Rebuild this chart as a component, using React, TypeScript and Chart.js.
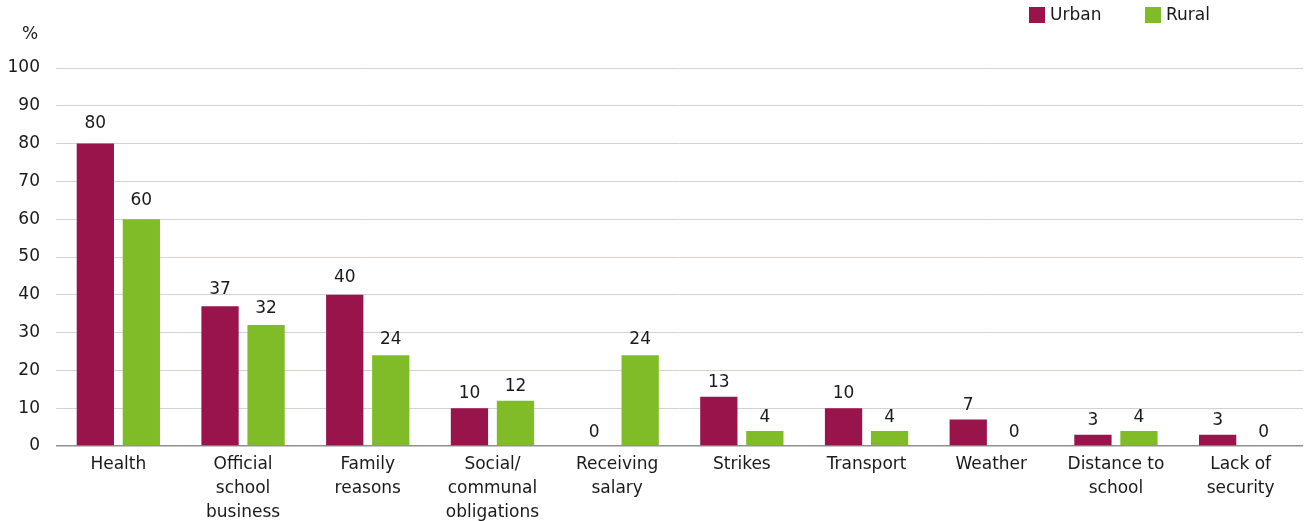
import React, { useEffect, useRef } from "react";
import { Chart, registerables } from "chart.js";

Chart.register(...registerables);

const categories: string[][] = [
  ["Health"],
  ["Official", "school", "business"],
  ["Family", "reasons"],
  ["Social/", "communal", "obligations"],
  ["Receiving", "salary"],
  ["Strikes"],
  ["Transport"],
  ["Weather"],
  ["Distance to", "school"],
  ["Lack of", "security"],
];
const urban: number[] = [80, 37, 40, 10, 0, 13, 10, 7, 3, 3];
const rural: number[] = [60, 32, 24, 12, 24, 4, 4, 0, 4, 0];
const seriesNames = ["Urban", "Rural"];
const colors = ["#98144b", "#80bc28"];

const FONT = "'DejaVu Sans', sans-serif";
const TEXT = "#1a1a1a";

const valueLabels = {
  id: "valueLabels",
  afterDatasetsDraw(chart: any) {
    const ctx = chart.ctx;
    const base = chart.scales.y.getPixelForValue(0);
    ctx.save();
    ctx.font = `17px ${FONT}`;
    ctx.fillStyle = TEXT;
    ctx.textAlign = "center";
    ctx.textBaseline = "alphabetic";
    chart.data.datasets.forEach((ds: any, i: number) => {
      const meta = chart.getDatasetMeta(i);
      meta.data.forEach((bar: any, j: number) => {
        const off = 9 + 0.022 * (base - bar.y);
        ctx.fillText(String(ds.data[j]), bar.x, bar.y - off);
      });
    });
    ctx.restore();
  },
};

const extras = {
  id: "extras",
  afterDraw(chart: any) {
    const ctx = chart.ctx;
    ctx.save();
    ctx.font = `17px ${FONT}`;
    ctx.fillStyle = TEXT;
    ctx.textBaseline = "middle";
    ctx.textAlign = "center";
    ctx.fillText("%", 30, 35);
    ctx.textAlign = "left";
    const xs = [1029, 1145];
    seriesNames.forEach((n, i) => {
      ctx.fillStyle = colors[i];
      ctx.fillRect(xs[i], 7, 16, 16);
      ctx.fillStyle = TEXT;
      ctx.fillText(n, xs[i] + 21, 15.5);
    });
    ctx.restore();
  },
};

export default function App() {
  const ref = useRef<HTMLCanvasElement>(null);
  useEffect(() => {
    const chart = new Chart(ref.current!, {
      type: "bar",
      data: {
        labels: categories,
        datasets: [
          { label: seriesNames[0], data: urban, backgroundColor: colors[0] },
          { label: seriesNames[1], data: rural, backgroundColor: colors[1] },
        ],
      },
      options: {
        animation: false,
        responsive: true,
        maintainAspectRatio: false,
        datasets: { bar: { categoryPercentage: 0.738, barPercentage: 0.81 } },
        layout: { padding: { top: 68, right: 5, left: 0, bottom: 0 } },
        plugins: { legend: { display: false }, tooltip: { enabled: false } },
        scales: {
          x: {
            grid: { display: false },
            border: { display: false },
            ticks: {
              color: TEXT,
              font: { family: FONT, size: 17, lineHeight: 1.4 },
              padding: -1,
              maxRotation: 0,
              autoSkip: false,
            },
            afterFit: (s: any) => {
              s.height = 75;
            },
          },
          y: {
            min: 0,
            max: 100,
            ticks: {
              stepSize: 10,
              color: TEXT,
              font: { family: FONT, size: 17 },
              padding: 16,
            },
            border: { display: false },
            grid: {
              drawTicks: false,
              lineWidth: (c: any) => (c.tick && c.tick.value === 0 ? 1.5 : 1),
              color: (c: any) => (c.tick && c.tick.value === 0 ? "#8f8f8f" : "#d6d2cb"),
            },
            afterFit: (s: any) => {
              s.width = 56;
            },
          },
        },
      },
      plugins: [valueLabels, extras],
    });
    return () => chart.destroy();
  }, []);
  return (
    <div style={{ position: "fixed", left: 0, top: 0, width: 1308, height: 521 }}>
      <canvas ref={ref} />
    </div>
  );
}
